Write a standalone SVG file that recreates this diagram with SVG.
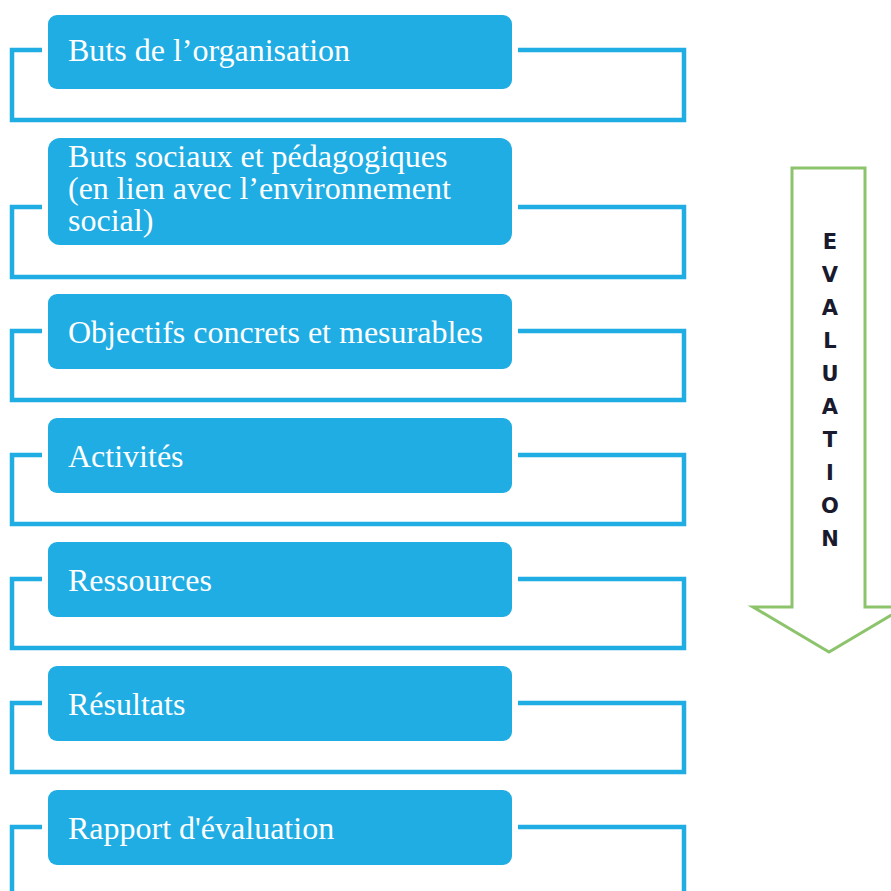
<svg xmlns="http://www.w3.org/2000/svg" width="891" height="891" viewBox="0 0 891 891">
<style>
.box{fill:#1FADE4;}
.br{fill:none;stroke:#1FADE4;stroke-width:4.5;stroke-linejoin:miter;}
.t{font-family:"Liberation Serif","Times New Roman",serif;font-size:32px;fill:#FFFFFF;}
.ev{font-family:"DejaVu Sans","Liberation Sans",sans-serif;font-weight:bold;font-size:21px;fill:#1a1a2e;text-anchor:middle;}
</style>
<rect width="891" height="891" fill="#FFFFFF"/>
<g id="connectors">
<path class="br" d="M42,50 H12 V120 H684 V50 H518"/>
<path class="br" d="M42,207 H12 V277 H684 V207 H518"/>
<path class="br" d="M42,331 H12 V400 H684 V331 H518"/>
<path class="br" d="M42,455 H12 V524 H684 V455 H518"/>
<path class="br" d="M42,579 H12 V648 H684 V579 H518"/>
<path class="br" d="M42,703 H12 V772 H684 V703 H518"/>
<path class="br" d="M42,827 H12 V900 M684,900 V827 H518"/>
</g>
<g id="n1"><rect class="box" x="48" y="15" width="464" height="74" rx="9"/><text class="t" x="68" y="61">Buts de l’organisation</text></g>
<g id="n2"><rect class="box" x="48" y="138" width="464" height="107" rx="12"/><text class="t" x="68" y="167">Buts sociaux et pédagogiques</text><text class="t" x="68" y="199">(en lien avec l’environnement</text><text class="t" x="68" y="231">social)</text></g>
<g id="n3"><rect class="box" x="48" y="294" width="464" height="75" rx="9"/><text class="t" x="68" y="343">Objectifs concrets et mesurables</text></g>
<g id="n4"><rect class="box" x="48" y="418" width="464" height="75" rx="9"/><text class="t" x="68" y="467">Activités</text></g>
<g id="n5"><rect class="box" x="48" y="542" width="464" height="75" rx="9"/><text class="t" x="68" y="591">Ressources</text></g>
<g id="n6"><rect class="box" x="48" y="666" width="464" height="75" rx="9"/><text class="t" x="68" y="715">Résultats</text></g>
<g id="n7"><rect class="box" x="48" y="790" width="464" height="75" rx="9"/><text class="t" x="68" y="839">Rapport d'évaluation</text></g>
<g id="evaluation">
<path d="M792,168 H865 V607 H905 L829,652 L753,607 H792 Z" fill="#FFFFFF" stroke="#8CC46C" stroke-width="3" stroke-linejoin="miter"/>
<text class="ev" x="830" y="249">E</text>
<text class="ev" x="830" y="282">V</text>
<text class="ev" x="830" y="315">A</text>
<text class="ev" x="830" y="348">L</text>
<text class="ev" x="830" y="381">U</text>
<text class="ev" x="830" y="414">A</text>
<text class="ev" x="830" y="447">T</text>
<text class="ev" x="830" y="480">I</text>
<text class="ev" x="830" y="513">O</text>
<text class="ev" x="830" y="546">N</text>
</g>
</svg>
